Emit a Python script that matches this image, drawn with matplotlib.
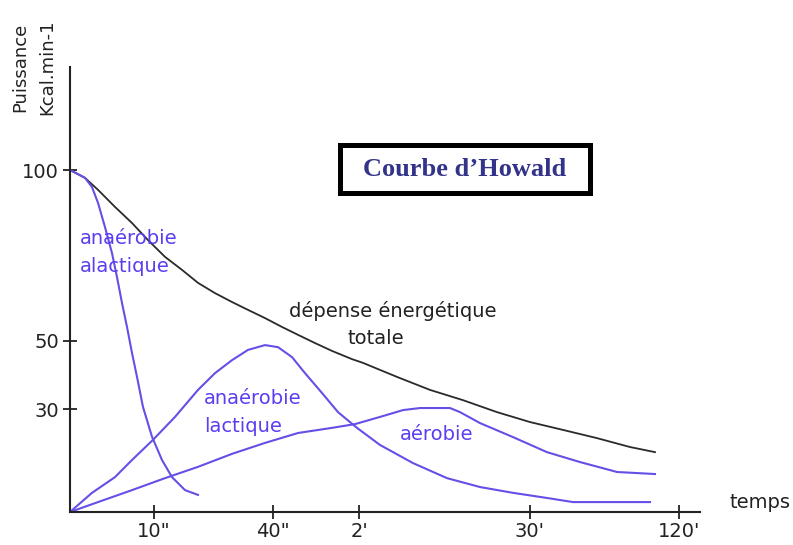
import matplotlib.pyplot as plt
from matplotlib.patches import Rectangle

# ---- data (x in time-axis units, y in Puissance units) ----
total_x = [0, 15, 28, 45, 62, 78, 95, 112, 128, 145, 162, 178, 195, 212, 228, 245, 262,
           282, 293, 327, 360, 393, 427, 460, 493, 527, 560, 585]
total_y = [100, 97.7, 94.2, 89.2, 84.5, 79.5, 74.6, 70.8, 67.0, 64.0, 61.4, 59.1, 56.7, 54.1,
           51.8, 49.4, 47.1, 44.7, 43.6, 39.5, 35.7, 32.7, 29.2, 26.3, 24.0, 21.6, 19.0, 17.5]

alactic_x = [0, 15, 22, 28, 35, 42, 47, 52, 57, 62, 67, 73, 82, 92, 102, 115, 128]
alactic_y = [100, 97.7, 95.0, 90.4, 83.3, 75.7, 68.7, 61.1, 54.1, 46.5, 39.5, 30.7, 22.0,
             15.2, 10.2, 6.4, 5.0]

lactic_x = [0, 22, 45, 62, 83, 105, 128, 145, 162, 178, 195, 208, 222, 235, 252, 268, 287,
            310, 343, 377, 410, 443, 477, 503, 580]
lactic_y = [0, 5.6, 10.2, 15.2, 21.1, 27.8, 35.7, 40.6, 44.4, 47.4, 48.8, 48.2, 45.3, 40.6,
            34.8, 29.2, 24.6, 19.6, 14.3, 9.9, 7.3, 5.6, 4.1, 2.9, 2.9]

aerobic_x = [0, 28, 62, 95, 128, 162, 195, 228, 262, 285, 310, 333, 350, 380, 390, 410, 443,
             477, 510, 547, 585]
aerobic_y = [0, 2.9, 6.4, 9.9, 13.2, 17.0, 20.2, 23.1, 24.6, 25.7, 27.8, 29.8, 30.4, 30.4,
             29.2, 26.0, 21.9, 17.5, 14.6, 11.7, 11.1]

xtick_pos = [84, 203, 289, 460, 609]
xtick_labels = ['10"', '40"', "2'", "30'", "120'"]
ytick_pos = [100, 50, 30]
ytick_labels = ['100', '50', '30']

W, H = 793, 545
BLUE = '#6450e6'
TBLUE = '#5a3ff0'
FONT = 'DejaVu Sans'

def fp(x, y):
    return x / W, 1 - y / H

fig = plt.figure(figsize=(W / 100, H / 100), dpi=100)
fig.patch.set_facecolor('white')
ax = fig.add_axes([70 / W, 1 - 512 / H, 630 / W, (512 - 67) / H])
ax.set_xlim(0, 630)
ax.set_ylim(0, (512 - 67) / 3.42)
ax.patch.set_alpha(0)

ax.plot(total_x, total_y, color='#2a2a2a', lw=1.3, solid_joinstyle='round')
ax.plot(alactic_x, alactic_y, color=BLUE, lw=1.5, solid_joinstyle='round')
ax.plot(lactic_x, lactic_y, color=BLUE, lw=1.5, solid_joinstyle='round')
ax.plot(aerobic_x, aerobic_y, color=BLUE, lw=1.5, solid_joinstyle='round')

for s in ['top', 'right']:
    ax.spines[s].set_visible(False)
for s in ['left', 'bottom']:
    ax.spines[s].set_linewidth(1.5)
    ax.spines[s].set_color('#222222')

ax.set_xticks(xtick_pos)
ax.set_xticklabels(xtick_labels, fontsize=14, family=FONT, color='#222222')
ax.set_yticks(ytick_pos)
ax.set_yticklabels(ytick_labels, fontsize=14, family=FONT, color='#222222')
ax.tick_params(axis='both', direction='inout', length=10, width=1.3, color='#222222')
ax.tick_params(axis='x', pad=2)
ax.tick_params(axis='y', pad=3)

# axis titles
fig.text(*fp(20, 67), 'Puissance', rotation=90, ha='center', va='center',
         fontsize=13, family=FONT, color='#222222')
fig.text(*fp(47, 67), 'Kcal.min-1', rotation=90, ha='center', va='center',
         fontsize=13, family=FONT, color='#222222')
fig.text(*fp(730, 503), 'temps', ha='left', va='center', fontsize=14,
         family=FONT, color='#222222')

# curve labels
fig.text(*fp(80, 238), 'anaérobie', ha='left', va='center', fontsize=14, family=FONT, color=TBLUE)
fig.text(*fp(80, 266), 'alactique', ha='left', va='center', fontsize=14, family=FONT, color=TBLUE)
fig.text(*fp(289, 311), 'dépense énergétique', ha='left', va='center', fontsize=14, family=FONT, color='#222222')
fig.text(*fp(376, 339), 'totale', ha='center', va='center', fontsize=14, family=FONT, color='#222222')
fig.text(*fp(204, 398), 'anaérobie', ha='left', va='center', fontsize=14, family=FONT, color=TBLUE)
fig.text(*fp(204, 426), 'lactique', ha='left', va='center', fontsize=14, family=FONT, color=TBLUE)
fig.text(*fp(400, 435), 'aérobie', ha='left', va='center', fontsize=14, family=FONT, color=TBLUE)

# title box
x0, y0 = fp(339.5, 192.5)
x1, y1 = fp(589.5, 144.5)
fig.patches.append(Rectangle((x0, y0), x1 - x0, y1 - y0, transform=fig.transFigure,
                             facecolor='white', edgecolor='black', lw=3.6, zorder=5))
fig.text(*fp(465, 170), 'Courbe d\u2019Howald', ha='center', va='center', fontsize=19,
         family='Liberation Serif', weight='bold', color='#33338a', zorder=6)

fig.savefig('out.png', dpi=100, facecolor='white')
